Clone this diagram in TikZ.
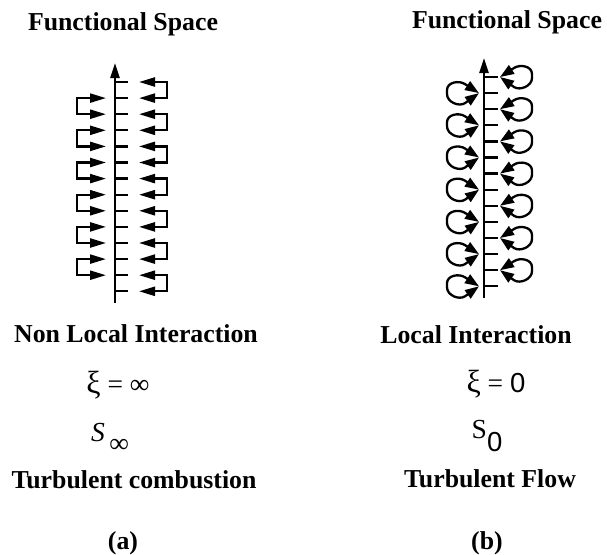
\documentclass[tikz,border=0pt]{standalone}
\usepackage{fontspec}
\setmainfont{Liberation Serif}
\newfontfamily\sansf{Liberation Sans}
\usetikzlibrary{arrows.meta,calc}
\newcommand{\bigxi}{{\fontsize{32}{32}\selectfont ξ}}
\begin{document}
\begin{tikzpicture}[x=1pt,y=-1pt,
  lbl/.style={font=\fontsize{25.8}{30}\selectfont\bfseries, anchor=base, inner sep=0},
  mth/.style={font=\fontsize{27.5}{32}\selectfont, anchor=base, inner sep=0},
  ln/.style={line width=2.3pt},
  axisarrow/.style={line width=2.3pt, -{Triangle[length=15pt,width=9pt]}},
  brk/.style={line width=2.3pt, line join=miter, {Triangle[length=16pt,width=9pt]}-{Triangle[length=16pt,width=9pt]}},
  lp/.style={line width=2.3pt, line join=round, {Triangle[length=14pt,width=10pt]}-{Triangle[length=14pt,width=10pt]}},
]
\useasboundingbox (0,0) rectangle (607,554);

% ---------- panel (a) ----------
\coordinate (abot) at (115,303);
\coordinate (atop) at (115,63);
\draw[axisarrow] (abot) -- (atop);
\foreach \k in {1,...,14} {
  \coordinate (a\k) at (115,{82+16.1*(\k-1)});
  \draw[ln] (a\k) -- ++(13,0);
}
% right brackets (pairs 1-2, 3-4, ...)
\foreach \k in {1,3,...,13} {
  \pgfmathtruncatemacro{\n}{\k+1}
  \draw[brk] ([xshift=24pt]a\k) -- ([xshift=52pt]a\k) -- ([xshift=52pt]a\n) -- ([xshift=24pt]a\n);
}
% left brackets (pairs 2-3, 4-5, ...)
\foreach \k in {2,4,...,12} {
  \pgfmathtruncatemacro{\n}{\k+1}
  \draw[brk] ([xshift=-9pt]a\k) -- ([xshift=-38pt]a\k) -- ([xshift=-38pt]a\n) -- ([xshift=-9pt]a\n);
}

% ---------- panel (b) ----------
\coordinate (bbot) at (484,298);
\coordinate (btop) at (484,58);
\draw[axisarrow] (bbot) -- (btop);
\foreach \k in {1,...,14} {
  \coordinate (b\k) at (484,{77+16.1*(\k-1)});
  \draw[ln] (b\k) -- ++(14,0);
}
% right loops at odd ticks
\foreach \k in {1,3,...,13} {
  \coordinate (p\k) at ($(b\k)+(16,0)$);
  \draw[lp] (p\k) -- ++(14,-9) .. controls +(6,-4) and +(0,-8) .. ++(18,6)
            -- ++(0,4) .. controls +(0,8) and +(6,4) .. ++(-18,9) -- (p\k);
}
% left loops at even ticks
\foreach \k in {2,4,...,14} {
  \coordinate (q\k) at ($(b\k)+(-5,0)$);
  \draw[lp] (q\k) -- ++(-14,-9) .. controls +(-6,-4) and +(0,-8) .. ++(-18,6)
            -- ++(0,4) .. controls +(0,8) and +(-6,4) .. ++(18,9) -- (q\k);
}

% ---------- texts ----------
\node[lbl] (ta) at (123,30) {Functional Space};
\node[lbl] (tb) at (507,28) {Functional Space};
\node[lbl] (ia) at (136,342) {Non Local Interaction};
\node[lbl] (ib) at (476,343) {Local Interaction};
\node[mth] (xa) at (118,393) {\bigxi{} = ∞};
\node[mth] (xb) at (496,392) {\bigxi{} = {\sansf 0}};
\node[mth] (sa) at (110,441) {\textit{S}\,\raisebox{-11pt}{∞}};
\node[mth] (sb) at (487,438) {S\raisebox{-13pt}{\sansf 0}};
\node[lbl] (ca) at (134,488) {Turbulent combustion};
\node[lbl] (cb) at (490,487) {Turbulent Flow};
\node[lbl] (la) at (123,549) {(a)};
\node[lbl] (lb) at (487,549) {(b)};
\end{tikzpicture}
\end{document}
